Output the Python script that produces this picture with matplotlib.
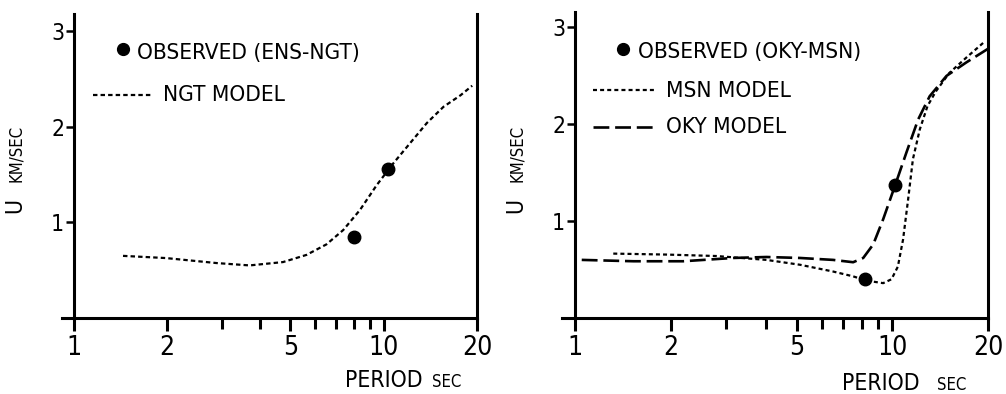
import matplotlib
matplotlib.use("Agg")
import matplotlib.pyplot as plt
from matplotlib.lines import Line2D
from matplotlib.ticker import FixedLocator, NullFormatter

plt.rcParams['font.family'] = ['DejaVu Sans']
plt.rcParams['font.stretch'] = 'condensed'

# ---------------- data ----------------
ngt_period = [1.44, 1.98, 2.88, 3.69, 4.73, 5.63, 6.53, 7.40, 8.38, 9.49, 10.75, 12.17, 13.78, 15.6, 17.7, 19.3]
ngt_u      = [0.65, 0.627, 0.575, 0.55, 0.585, 0.66, 0.77, 0.92, 1.13, 1.39, 1.62, 1.83, 2.04, 2.21, 2.33, 2.43]
obs_left_period = [8.01, 10.3]
obs_left_u      = [0.85, 1.56]

msn_period = [1.32, 1.94, 2.79, 4.01, 5.11, 6.5, 7.52, 8.28, 9.35, 9.93, 10.4, 10.8, 11.2, 11.6, 12.2, 12.9, 13.7, 15.1, 17.1, 19.3]
msn_u      = [0.665, 0.655, 0.64, 0.60, 0.55, 0.48, 0.43, 0.386, 0.36, 0.40, 0.53, 0.81, 1.22, 1.64, 1.95, 2.19, 2.34, 2.53, 2.69, 2.84]
oky_period = [1.05, 1.53, 2.19, 3.15, 4.01, 5.11, 6.5, 7.52, 8.09, 8.7, 9.35, 10.17, 11.07, 12.05, 13.1, 14.8, 17.1, 20.0]
oky_u      = [0.60, 0.586, 0.586, 0.62, 0.63, 0.62, 0.60, 0.576, 0.62, 0.76, 1.02, 1.36, 1.71, 2.05, 2.29, 2.50, 2.64, 2.78]
obs_right_period = [8.18, 10.17]
obs_right_u      = [0.40, 1.37]

xticks_major = [1, 2, 5, 10, 20]
xticks_minor = [3, 4, 6, 7, 8, 9]
xtick_labels = ['1', '2', '5', '10', '20']
yticks = [1, 2, 3]
ytick_labels = ['1', '2', '3']

W, H = 1006, 394
fig = plt.figure(figsize=(W / 100, H / 100), dpi=100)

def fx(px):
    return px / W

def fy(py):
    return 1 - py / H

def setup(ax, xlo, ytop):
    ax.set_xscale('log')
    ax.set_xlim(xlo, 20)
    ax.set_ylim(0, ytop)
    ax.spines['top'].set_visible(False)
    ax.spines['left'].set_position(('data', 1))
    for s in ['left', 'bottom', 'right']:
        ax.spines[s].set_linewidth(2.2)
    ax.xaxis.set_major_locator(FixedLocator(xticks_major))
    ax.xaxis.set_minor_locator(FixedLocator(xticks_minor))
    ax.xaxis.set_minor_formatter(NullFormatter())
    ax.set_xticklabels(xtick_labels)
    ax.set_yticks(yticks)
    ax.set_yticklabels(ytick_labels)
    ax.tick_params(axis='x', which='major', direction='out', length=9, width=2.2, labelsize=19, pad=3)
    ax.tick_params(axis='x', which='minor', direction='out', length=8, width=2.2)
    ax.tick_params(axis='y', which='major', direction='out', length=6, width=1.8, labelsize=16.5, pad=1)
    ax.patch.set_visible(False)

# Left panel
ax1 = fig.add_axes([fx(62), fy(318), fx(477) - fx(62), fy(14) - fy(318)])
setup(ax1, 0.915, 3.18)
ax1.plot(ngt_period, ngt_u, color='black', lw=1.6, dashes=(2.0, 1.4))
ax1.plot(obs_left_period, obs_left_u, 'o', color='black', ms=9)

# Right panel
ax2 = fig.add_axes([fx(562), fy(318), fx(988) - fx(562), fy(12) - fy(318)])
setup(ax2, 0.91, 3.16)
ax2.plot(msn_period, msn_u, color='black', lw=1.6, dashes=(1.8, 1.4))
ax2.plot(oky_period, oky_u, color='black', lw=1.9, dashes=(6.0, 2.2))
ax2.plot(obs_right_period, obs_right_u, 'o', color='black', ms=9)

# Legends (drawn manually)
def legend_dot(x, y):
    fig.add_artist(Line2D([fx(x)], [fy(y)], marker='o', color='black', ms=8.5, transform=fig.transFigure))

def legend_line(x0, x1, y, **kw):
    fig.add_artist(Line2D([fx(x0), fx(x1)], [fy(y), fy(y)], color='black', transform=fig.transFigure, **kw))

tsize = 16.2
legend_dot(123, 49)
fig.text(fx(137), fy(53), 'OBSERVED (ENS-NGT)', fontsize=tsize, va='center', ha='left')
legend_line(93, 153, 95, lw=1.6, dashes=(2.0, 1.4))
fig.text(fx(163), fy(95), 'NGT MODEL', fontsize=tsize, va='center', ha='left')

legend_dot(623, 49)
fig.text(fx(638), fy(52), 'OBSERVED (OKY-MSN)', fontsize=tsize, va='center', ha='left')
legend_line(593, 654, 90, lw=1.6, dashes=(1.8, 1.4))
fig.text(fx(666), fy(91), 'MSN MODEL', fontsize=tsize, va='center', ha='left')
legend_line(593, 654, 127, lw=1.9, dashes=(6.0, 2.2))
fig.text(fx(666), fy(127), 'OKY MODEL', fontsize=tsize, va='center', ha='left')

# Axis labels
for xb in (21, 522):
    fig.text(fx(xb), fy(213), 'U', fontsize=16.5, rotation=90, rotation_mode='anchor', ha='left', va='baseline')
    fig.text(fx(xb), fy(182), 'KM/SEC', fontsize=12, rotation=90, rotation_mode='anchor', ha='left', va='baseline')

fig.text(fx(345), fy(387), 'PERIOD', fontsize=16.5, ha='left', va='baseline')
fig.text(fx(432), fy(387), 'SEC', fontsize=12, ha='left', va='baseline')
fig.text(fx(842), fy(390), 'PERIOD', fontsize=16.5, ha='left', va='baseline')
fig.text(fx(937), fy(390), 'SEC', fontsize=12, ha='left', va='baseline')

fig.savefig('out.png', dpi=100)
